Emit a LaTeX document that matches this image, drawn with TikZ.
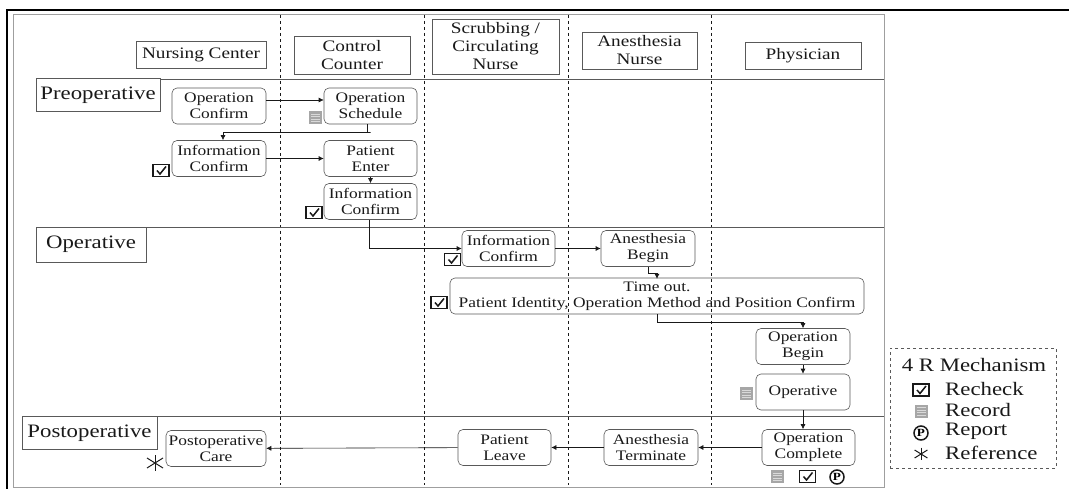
\documentclass[tikz,border=0pt]{standalone}
\usepackage{amsmath}
\usepackage{fontspec}
\setmainfont{Liberation Serif}[FakeStretch=1.2]
\usetikzlibrary{positioning}
\usetikzlibrary{calc}
\usetikzlibrary{arrows.meta}

\definecolor{linegray}{gray}{0.35}
\definecolor{inkgray}{gray}{0.1}

\tikzset{
    header/.style={rectangle, draw=linegray, semithick, text=inkgray, minimum width=#1, text centered, align=center, inner sep=0pt, font=\fontsize{16}{18}\selectfont},
    phase/.style={rectangle, draw=linegray, semithick, text=inkgray, minimum width=#1, minimum height=33pt, inner sep=0pt, font=\fontsize{19}{22}\selectfont},
    stepbox/.style={rectangle, rounded corners=5pt, draw=linegray, semithick, text=inkgray, minimum width=#1, minimum height=36pt, align=center, inner sep=0pt, font=\fontsize{14.5}{16}\selectfont},
    stepbox/.default=94pt,
    flow/.style={draw=inkgray, semithick, -{Latex[length=5pt, width=5pt]}},
    lane/.style={draw=inkgray, dashed, semithick},
    legendtext/.style={anchor=west, inner sep=0pt, text=inkgray, font=\fontsize{19}{22}\selectfont},
    recheck/.pic={
        \draw[inkgray, line width=1.5pt] (-8,-6) rectangle (8,6);
        \draw[inkgray, line width=1.5pt] (-4,0) -- (-1,3.5) -- (5,-4);
    },
    recordmark/.pic={
        \fill[gray!70] (-6.5,-6.5) rectangle (6.5,6.5);
        \foreach \yy in {-3.5,-1,1.5,4}
            \draw[gray!30, thick] (-4.5,\yy) -- (4.5,\yy);
    },
    reportmark/.pic={
        \draw[inkgray, line width=1.5pt] (0,0) circle (7);
        \node[inner sep=0pt, font=\bfseries\fontsize{11}{11}\selectfont] at (0,0) {P};
    },
    refmark/.pic={
        \draw[inkgray, line width=1pt] (0,-8) -- (0,8);
        \draw[inkgray, line width=1pt] (-8,-5) -- (8,5);
        \draw[inkgray, line width=1pt] (-8,5) -- (8,-5);
    }
}

\begin{document}
\begin{tikzpicture}[x=1pt, y=-1pt]
        \useasboundingbox (0,0) rectangle (1069,489);

        % Frame
        \draw[black, line width=2.5pt] (1069,10) -- (7,10) -- (7,489);
        \draw[gray!75, line width=1pt] (13,15) rectangle (884,487);

        % Lanes
        \foreach \xx in {280,424,568,711}
            \draw[lane] (\xx,15) -- (\xx,485);
        \draw[linegray, semithick] (160,79) -- (884,79);
        \draw[linegray, semithick] (146,227) -- (884,227);
        \draw[linegray, semithick] (157,416) -- (884,416);

        % Headers
        \node (nursing) [header=130pt, minimum height=27pt] at (201,54.5) {Nursing Center};
        \node (control) [header=116pt, minimum height=38pt] at (352,55) {Control\\Counter};
        \node (scrub) [header=127pt, minimum height=55pt] at (495.5,46.5) {Scrubbing /\\Circulating\\Nurse};
        \node (anes) [header=115pt, minimum height=37pt] at (639.5,50.5) {Anesthesia\\Nurse};
        \node (phys) [header=116pt, minimum height=27pt] at (803,55.5) {Physician};

        % Phases
        \node (preop) [phase=124pt] at (98,95) {Preoperative};
        \node (oper) [phase=110pt, minimum height=35pt] at (91,244.5) {Operative};
        \node (postop) [phase=135pt] at (89.5,433) {Postoperative};

        % Steps
        \node (opConfirm) [stepbox] at (219,106) {Operation\\Confirm};
        \node (opSchedule) [stepbox=93pt] at (370.5,106) {Operation\\Schedule};
        \node (infoA) [stepbox] at (219,158.5) {Information\\Confirm};
        \node (patEnter) [stepbox=93pt] at (370.5,158.5) {Patient\\Enter};
        \node (infoB) [stepbox=93pt] at (370.5,201.5) {Information\\Confirm};
        \node (infoC) [stepbox=93pt] at (508.5,248.5) {Information\\Confirm};
        \node (anesBegin) [stepbox] at (648,248.5) {Anesthesia\\Begin};
        \node (timeOut) [stepbox=414pt] at (657,296) {Time out.\\Patient Identity, Operation Method and Position Confirm};
        \node (opBegin) [stepbox] at (803,346.5) {Operation\\Begin};
        \node (operative) [stepbox] at (803,392) {Operative};
        \node (opComplete) [stepbox=93pt] at (808.5,447.5) {Operation\\Complete};
        \node (anesTerm) [stepbox] at (651,447.5) {Anesthesia\\Terminate};
        \node (patLeave) [stepbox=93pt] at (504.5,447.5) {Patient\\Leave};
        \node (postCare) [stepbox=100pt] at (216,448.5) {Postoperative\\Care};

        % Marks
        \pic at (161,170.5) {recheck};
        \pic at (315.5,117.5) {recordmark};
        \pic at (314,212.5) {recheck};
        \pic at (452.5,259.5) {recheck};
        \pic at (439,302.5) {recheck};
        \pic at (746.5,393.5) {recordmark};
        \pic at (777.5,476.5) {recordmark};
        \pic at (807.5,476.5) {recheck};
        \pic at (837,477) {reportmark};
        \pic at (155,463) {refmark};

        % Arrows
        \draw[flow] ([yshift=6pt]opConfirm.east) -- ([yshift=6pt]opSchedule.west);
        \draw[flow] ([xshift=-3.5pt]opSchedule.south) |- ($(opSchedule.south)!0.5!(infoA.north -| opSchedule.south)$) -| ([xshift=4pt]infoA.north);
        \draw[flow] (infoA) -- (patEnter);
        \draw[flow] (patEnter) -- (infoB);
        \draw[flow] ([xshift=-1.5pt]infoB.south) |- (infoC.west);
        \draw[flow] (infoC) -- (anesBegin);
        \draw[flow] (anesBegin.south) |- ++(9,7) -- ++(0,5);
        \draw[flow] (timeOut.south) |- ++(146,8) -- (opBegin.north);
        \draw[flow] (opBegin) -- (operative);
        \draw[flow] (operative.south) -- (operative.south |- opComplete.north);
        \draw[flow] (opComplete) -- (anesTerm);
        \draw[flow] (anesTerm) -- (patLeave);
        \draw[flow] (patLeave) -- (postCare);

        % Legend
        \node (legend) [rectangle, draw=linegray, dashed, semithick, minimum width=166pt, minimum height=120pt, inner sep=0pt] at (973,408) {};
        \node (legendTitle) [text=inkgray, inner sep=0pt, font=\fontsize{19}{22}\selectfont] at (974,365) {4 R Mechanism};
        \node (lgRecheck) [legendtext] at (945,389) {Recheck};
        \node (lgRecord) [legendtext] at (945,410) {Record};
        \node (lgReport) [legendtext] at (945,431) {Report};
        \node (lgReference) [legendtext] at (945,453) {Reference};
        \pic at (921,390) {recheck};
        \pic at (921,411) {recordmark};
        \pic at (921,433) {reportmark};
        \pic[scale=0.8] at (921,454) {refmark};

\end{tikzpicture}
\end{document}
